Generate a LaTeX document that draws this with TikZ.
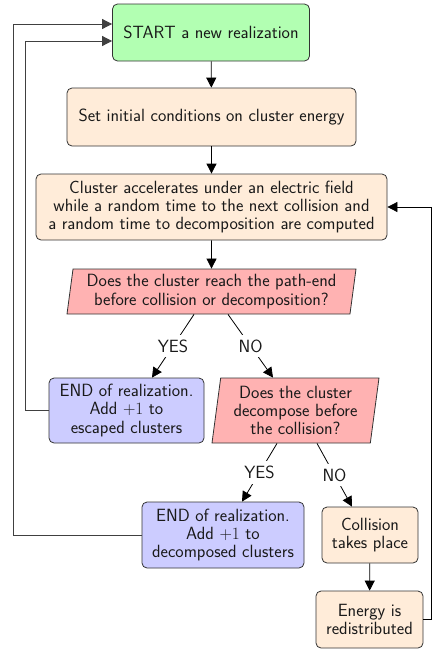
\documentclass[tikz,border=0pt]{standalone}
\usetikzlibrary{shapes.geometric,arrows.meta}
\begin{document}
\begin{tikzpicture}[x=1pt,y=-1pt,
  every node/.style={font=\sffamily\fontsize{17.7}{18.4}\selectfont, text=black!90},
  box/.style={draw=black!80, line width=0.8pt, rounded corners=5pt, align=center, inner sep=0pt},
  greenbox/.style={box, fill=green!30},
  orangebox/.style={box, fill=orange!15},
  bluebox/.style={box, fill=blue!20},
  decision/.style={draw=black!80, line width=0.8pt, fill=red!30, align=center, inner sep=0pt,
    shape=trapezium, trapezium left angle=80, trapezium right angle=100, trapezium stretches body=true},
  arr/.style={draw=black, line width=0.8pt, -{Triangle[length=10pt,width=10pt]}},
  fb/.style={draw=black!75, line width=0.8pt, -{Triangle[length=10pt,width=10pt]}},
  lab/.style={fill=white, inner sep=5pt, midway}
]
\useasboundingbox (0,0) rectangle (432,649);

\node[greenbox, minimum width=197pt, minimum height=57pt] (start) at (211,32.5) {START a new realization};
\node[orangebox, minimum width=289pt, minimum height=58pt] (set) at (211.5,117) {Set initial conditions on cluster energy};
\node[orangebox, minimum width=351pt, minimum height=66pt] (clust) at (211.5,207) {Cluster accelerates under an electric field\\while a random time to the next collision and\\a random time to decomposition are computed};
\node[decision, minimum width=289pt, minimum height=45pt] (dec1) at (211.5,291.5) {Does the cluster reach the path-end\\before collision or decomposition?};
\node[bluebox, minimum width=155pt, minimum height=65pt] (end1) at (126.5,410.5) {END of realization.\\Add $+1$ to\\escaped clusters};
\node[decision, minimum width=167pt, minimum height=65pt] (dec2) at (295.5,410.5) {Does the cluster\\decompose before\\the collision?};
\node[bluebox, minimum width=162pt, minimum height=66pt] (end2) at (223,535) {END of realization.\\Add $+1$ to\\decomposed clusters};
\node[orangebox, minimum width=96pt, minimum height=56pt] (coll) at (370,535) {Collision\\takes place};
\node[orangebox, minimum width=107pt, minimum height=57pt] (energy) at (369.5,619.5) {Energy is\\redistributed};

\draw[arr] (start) -- (set);
\draw[arr] (set) -- (clust);
\draw[arr] (clust) -- (dec1);
\draw[arr] ([xshift=-17.5pt]dec1.south) -- node[lab]{YES} ([xshift=25.5pt]end1.north);
\draw[arr] ([xshift=16.5pt]dec1.south) -- node[lab]{NO} ([xshift=-22.5pt]dec2.north);
\draw[arr] ([xshift=-18.5pt]dec2.south) -- node[lab]{YES} ([xshift=19pt]end2.north);
\draw[arr] ([xshift=21.5pt]dec2.south) -- node[lab]{NO} ([xshift=-18pt]coll.north);
\draw[arr] (coll) -- (energy);

\coordinate (rc) at (431,619.5);
\draw[arr] (energy.east) -- (rc) |- (clust.east);
\coordinate (l1) at (25,410.5);
\draw[fb] (end1.west) -- (l1) |- ([yshift=-8.5pt]start.west);
\coordinate (l2) at (13,535);
\draw[fb] (end2.west) -- (l2) |- ([yshift=8.5pt]start.west);
\end{tikzpicture}
\end{document}
